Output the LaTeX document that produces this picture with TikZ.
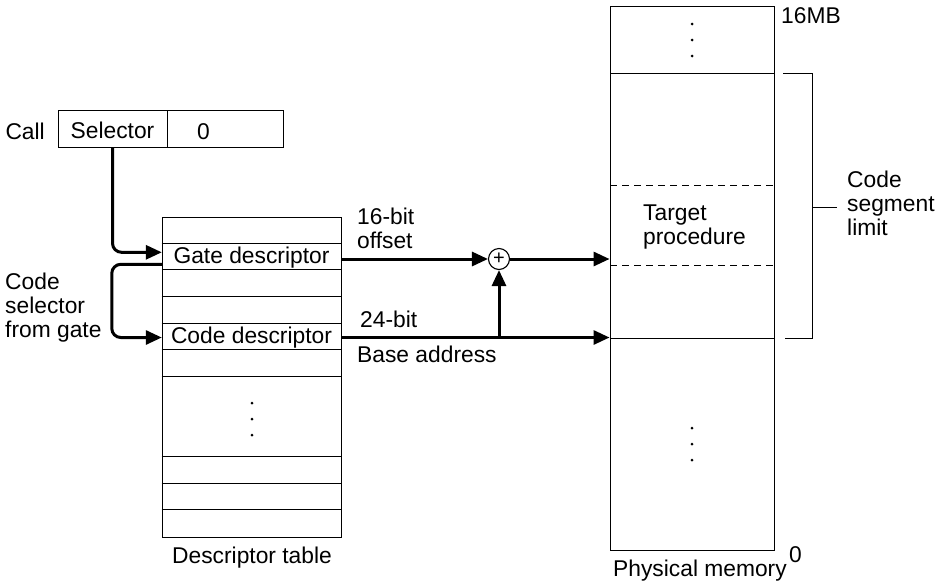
\documentclass[tikz,border=0pt]{standalone}
\usepackage{fontspec}
\setmainfont{Liberation Sans}
\usetikzlibrary{arrows.meta}

\begin{document}
\begin{tikzpicture}[x=1pt, y=-1pt, font=\fontsize{22.8}{24}\selectfont,
    rule/.style={line width=0.9pt},
    cell/.style={draw, line width=0.9pt, inner sep=0pt},
    lbl/.style={inner sep=0pt, anchor=base west, align=left},
    flow/.style={line width=3pt, -{Triangle[length=16pt,width=14pt]}, rounded corners=9pt}]
  \useasboundingbox (0,0) rectangle (943,582);

  % call instruction
  \node [cell, minimum width=109, minimum height=37, text height=19pt, text depth=0pt] (sel) at (112.5,128.5) {Selector};
  \node [cell, minimum width=116, minimum height=37, anchor=west] (off) at (sel.east) {};
  \node [lbl] (zero) at (197,139) {0};
  \node [lbl, anchor=base east] (call) at (45,139) {Call};

  % descriptor table
  \node [cell, minimum width=179, minimum height=320] (tab) at (251.5,377) {};
  \foreach \k in {1,...,6,9,10,11}
    \draw [rule] (tab.north west) ++(0,\k*26.67) -- ++(179,0);
  \node [minimum width=179, minimum height=26.67, inner sep=0pt] (gate) at (251.5,257.3) {Gate descriptor};
  \node [minimum width=179, minimum height=26.67, inner sep=0pt] (code) at (251.5,337.5) {Code descriptor};
  \foreach \y in {403,419,435}
    \fill (252,\y) circle (1.5pt);
  \node [lbl] (tlbl) at (172,563) {Descriptor table};

  % physical memory
  \node [cell, minimum width=164, minimum height=544] (mem) at (692,278) {};
  \draw [rule] (610,73) -- (774,73);
  \draw [rule] (610,338) -- (774,338);
  \draw [rule, dash pattern=on 7pt off 5pt] (610,185) -- (774,185);
  \draw [rule, dash pattern=on 7pt off 5pt] (610,265) -- (774,265);
  \foreach \y in {24,40,56,428,444,460}
    \fill (692,\y) circle (1.5pt);
  \node [lbl] (target) at (643,244) {Target\\procedure};
  \node [lbl] (top) at (781,23) {16MB};
  \node [lbl] (bot) at (789,562) {0};
  \node [lbl] (mlbl) at (613,576) {Physical memory};

  % segment limit bracket
  \coordinate (brk) at (812,207);
  \draw [rule] (783,73) -- (812,73) -- (812,338) -- (785,338);
  \draw [rule] (brk) -- ++(25,0);
  \node [lbl] (limit) at (847,235) {Code\\segment\\limit};

  % adder
  \node [circle, draw, line width=1.1pt, minimum size=21pt, inner sep=0pt,
         font=\fontsize{20}{20}\selectfont] (add) at (499,259) {+};
  \coordinate (tap) at (code.east -| add);

  % connectors
  \draw [flow] (sel.south) |- ([yshift=5pt]gate.west);
  \draw [flow] ([yshift=-7pt]gate.west) -- ++(-50,0) |- (code.west);
  \draw [flow] (gate.east |- add) -- (add);
  \draw [flow] (add) -- (add -| mem.west);
  \draw [flow] (code.east) -- (code.east -| mem.west);
  \draw [flow] (tap) -- (add);

  % line labels
  \node [lbl] (off16) at (357,248) {16-bit\\offset};
  \node [lbl] (base24) at (360,327) {24-bit};
  \node [lbl] (baddr) at (357,362) {Base address};
  \node [lbl] (csel) at (5,337) {Code\\selector\\from gate};
\end{tikzpicture}
\end{document}
